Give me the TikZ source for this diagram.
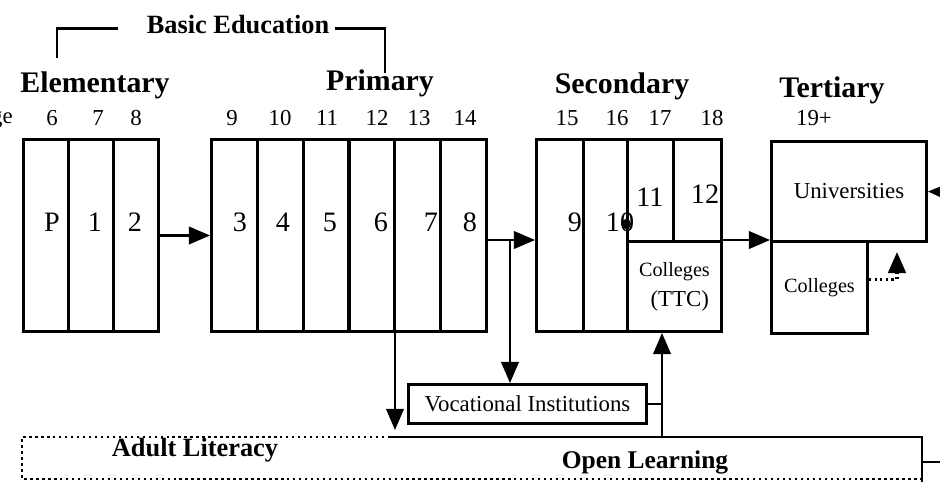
\documentclass[tikz,border=0pt]{standalone}
\usepackage{fontspec}
\setmainfont{Liberation Serif}
\usetikzlibrary{arrows.meta,positioning}

\tikzset{
  cell/.style={draw,line width=1.7pt,inner sep=0pt,anchor=north west,minimum height=3.84cm},
  stage/.style={font=\bfseries\fontsize{17}{20}\selectfont},
  age/.style={font=\fontsize{13}{15}\selectfont},
  grade/.style={font=\fontsize{16}{18}\selectfont},
  inst/.style={font=\fontsize{13}{15}\selectfont},
  wire/.style={line width=1.2pt},
  flow/.style={wire,-{Triangle[length=12pt,width=10pt]}},
}

\begin{document}
\begin{tikzpicture}[x=0.02cm,y=-0.02cm]
  \useasboundingbox (0,0) rectangle (940,481);

  % headings
  \node[font=\bfseries\fontsize{15}{18}\selectfont] (basic) at (238,25) {Basic Education};
  \node[stage] (elem) at (95,85) {Elementary};
  \node[stage] (prim) at (380,83) {Primary};
  \node[stage] (sec) at (622,86) {Secondary};
  \node[stage] (tert) at (832,90) {Tertiary};
  \draw[line width=1.6pt] ([xshift=-0.46cm,yshift=-2pt]basic.west) -| (57,58);
  \draw[line width=1.6pt] ([yshift=-2pt]basic.east) -| (385,73);

  % ages
  \node[age,anchor=east] (agelbl) at (19,118) {Age};
  \foreach \a/\x in {6/52,7/98,8/136,9/232,10/280,11/327,12/377,13/419,14/465,15/567,16/617,17/660,18/712,19+/814}
    {\node[age] (a\a) at (\x,118) {\a};}

  % classes
  \foreach \i/\x in {0/22,1/67,2/112} {\node[cell,minimum width=0.9cm] (e\i) at (\x,138) {};}
  \foreach \i/\x in {3/210,4/256,5/302,6/347,7/393,8/439} {\node[cell,minimum width=0.92cm] (p\i) at (\x,138) {};}
  \node[cell,minimum width=0.94cm] (s9) at (535,138) {};
  \node[cell,minimum width=0.88cm] (s10) at (582,138) {};
  \node[cell,minimum width=0.92cm,minimum height=2.04cm] (s11) at (626,138) {};
  \node[cell,minimum width=0.96cm,minimum height=2.04cm] (s12) at (672,138) {};
  \node[cell,minimum width=1.88cm,minimum height=1.8cm,inst,font=\fontsize{11.5}{14}\selectfont,align=center] (ttc) at (626,240)
    {Colleges\\[3pt]\hspace*{6pt}{\fontsize{13}{15}\selectfont(TTC)}};
  \node[cell,minimum width=3.1cm,minimum height=2cm,inst] (univ) at (770,140) {Universities};
  \node[cell,minimum width=1.92cm,minimum height=1.84cm,inst,font=\fontsize{11.5}{14}\selectfont] (coll) at (770,240) {Colleges};
  \node[cell,minimum width=4.76cm,minimum height=0.78cm,inst] (voc) at (407,383) {Vocational Institutions};

  \foreach \g/\x in {P/52,1/95,2/135,3/240,4/283,5/330,6/381,7/431,8/470,9/575,10/620}
    {\node[grade] (g\g) at (\x,222) {\g};}
  \node[grade] (g11) at (650,197) {11};
  \node[grade] (g12) at (705,194) {12};
  \node[circle,fill,inner sep=0pt,minimum size=0.2cm] (dot) at (626,224) {};

  % adult literacy and open learning
  \coordinate (olTL) at (390,437);
  \coordinate (olTR) at (922,437);
  \coordinate (olIn) at (662,437);
  \draw[dotted,line width=1.4pt] (olTL) -- (22,437) -- (22,479) -- (922,479);
  \draw[line width=1.6pt] (olTL) -- (olTR) -- (922,485);
  \draw[wire] (922,462) -- (945,462);
  \node[font=\bfseries\fontsize{15}{18}\selectfont] (lit) at (195,450) {Adult Literacy};
  \node[font=\bfseries\fontsize{14.5}{18}\selectfont] (open) at (645,462) {Open Learning};

  % paths between levels
  \coordinate (split) at (510,240);
  \coordinate (down) at (395,430);
  \coordinate (back) at (897,252);
  \coordinate (offR) at (948,192);
  \draw[flow] (e2.east) -- (p3.west);
  \draw[flow] (p8.east |- split) -- (s9.west |- split);
  \draw[flow] (split) -- (voc.north -| split);
  \draw[flow] (down |- p7.south) -- (down);
  \draw[wire] (voc.east) -- (voc.east -| olIn);
  \draw[flow] (olIn) -- (olIn |- ttc.south);
  \draw[flow] (ttc.north east) -- (ttc.north east -| univ.west);
  \draw[flow,dotted,line width=1.8pt] ([yshift=0.16cm]coll.east) -| (back);
  \draw[flow] (offR) -- (univ.east);
\end{tikzpicture}
\end{document}
